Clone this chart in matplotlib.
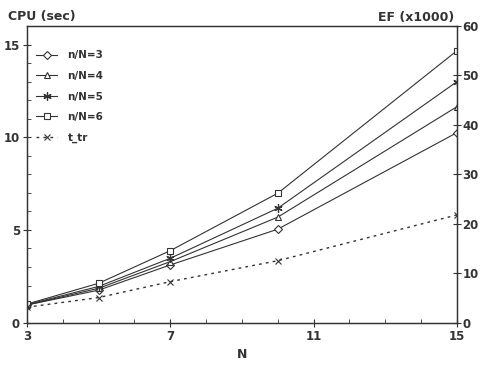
import matplotlib
matplotlib.use("Agg")
import matplotlib.pyplot as plt
from matplotlib.ticker import MultipleLocator

N = [3, 5, 7, 10, 15]
cpu_n3 = [0.95, 1.75, 3.11, 5.04, 10.25]
cpu_n4 = [0.95, 1.85, 3.29, 5.69, 11.65]
cpu_n5 = [0.97, 1.95, 3.47, 6.17, 13.0]
cpu_n6 = [1.0, 2.12, 3.88, 6.98, 14.67]
t_tr = [0.83, 1.35, 2.21, 3.34, 5.81]

labels = ["n/N=3", "n/N=4", "n/N=5", "n/N=6", "t_tr"]

plt.rcParams['font.family'] = ['DejaVu Sans']
ink = '#333333'
fig = plt.figure(figsize=(4.81, 3.67), dpi=100)
ax = fig.add_axes([0.056, 0.121, 0.894, 0.808])

lw = 0.8
ms = 5
ax.plot(N, cpu_n3, color=ink, lw=lw, marker='D', ms=4, mfc='white', mec=ink, mew=0.8, label=labels[0])
ax.plot(N, cpu_n4, color=ink, lw=lw, marker='^', ms=ms, mfc='white', mec=ink, mew=0.8, label=labels[1])
ax.plot(N, cpu_n5, color=ink, lw=lw, marker=(6, 2, 0), ms=ms + 1, mec=ink, mew=0.9, label=labels[2])
ax.plot(N, cpu_n6, color=ink, lw=lw, marker='s', ms=ms, mfc='white', mec=ink, mew=0.8, label=labels[3])
ax.plot(N, t_tr, color=ink, lw=1.0, ls=(0, (2, 3)), marker='x', ms=4, mec=ink, mew=0.8, label=labels[4])

ax.set_xlim(3, 15)
ax.set_ylim(0, 16)
ax.set_xticks([3, 7, 11, 15])
ax.xaxis.set_minor_locator(MultipleLocator(1))
ax.set_yticks([0, 5, 10, 15])
ax.yaxis.set_minor_locator(MultipleLocator(1))
ax.tick_params(axis='both', which='major', direction='inout', length=6, width=0.8, colors=ink, labelsize=8.5, pad=2)
ax.tick_params(axis='both', which='minor', direction='in', length=3, width=0.6, colors=ink)
for lab in ax.get_xticklabels() + ax.get_yticklabels():
    lab.set_fontweight('bold')

for s in ax.spines.values():
    s.set_color(ink)
    s.set_linewidth(0.9)

ax2 = ax.twinx()
ax2.set_ylim(0, 60)
ax2.set_yticks([0, 10, 20, 30, 40, 50, 60])
ax2.tick_params(axis='y', direction='inout', length=6, width=0.8, colors=ink, labelsize=8.5, pad=1)
for lab in ax2.get_yticklabels():
    lab.set_fontweight('bold')
for s in ax2.spines.values():
    s.set_color(ink)
    s.set_linewidth(0.9)

fig.text(0.017, 0.955, "CPU (sec)", fontsize=9, fontweight='bold', color=ink, ha='left', va='center')
fig.text(0.945, 0.952, "EF (x1000)", fontsize=9, fontweight='bold', color=ink, ha='right', va='center')
ax.set_xlabel("N", fontsize=9, fontweight='bold', color=ink, labelpad=4)

leg = ax.legend(loc='upper left', bbox_to_anchor=(0.0, 0.95), frameon=False, fontsize=7.5,
                handlelength=2.0, labelspacing=1.02, borderaxespad=0.5, handletextpad=1.0)
for t in leg.get_texts():
    t.set_color(ink)
    t.set_fontweight('bold')

fig.savefig("out.png", dpi=100)
